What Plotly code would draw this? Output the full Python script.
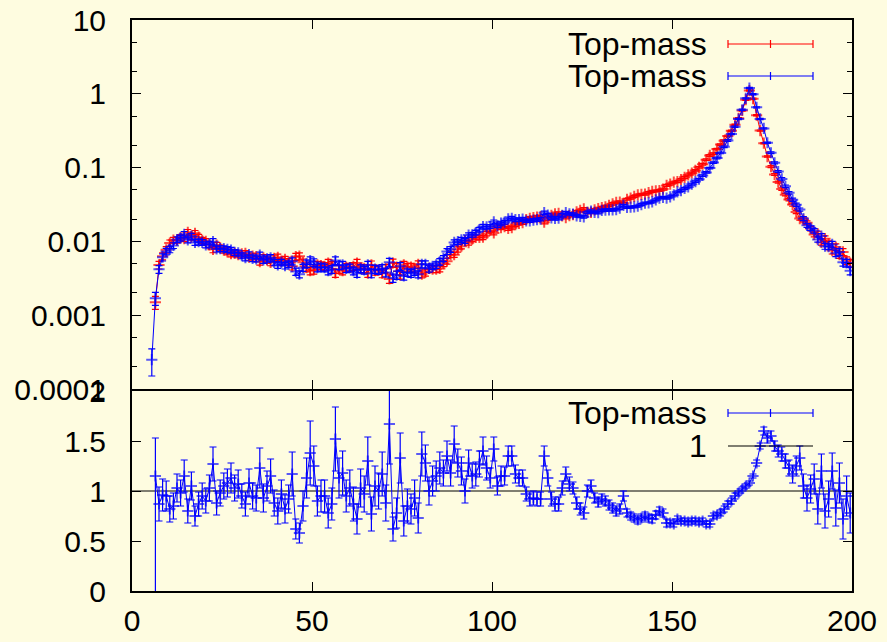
import plotly.graph_objects as go

# ---------------- data ----------------
mass_bins = [b + 0.5 for b in range(5, 200)]          # 5.5 ... 199.5 (bin centres)
ratio_bins = mass_bins[1:]                            # 6.5 ... 199.5

red_vals = [
    0.0015, 0.0048, 0.0063, 0.0077, 0.0095, 0.0104, 0.0104, 0.0113, 0.0109, 0.0133,
    0.0114, 0.0129, 0.0114, 0.0103, 0.0100, 0.0090, 0.0078, 0.0089, 0.0082, 0.0076,
    0.0072, 0.0068, 0.0069, 0.0066, 0.0068, 0.0069, 0.0061, 0.0063, 0.0062, 0.0053,
    0.0060, 0.0056, 0.0052, 0.0059, 0.0061, 0.0054, 0.0057, 0.0053, 0.0046, 0.0062,
    0.0063, 0.0052, 0.0044, 0.0040, 0.0041, 0.0048, 0.0047, 0.0046, 0.0051, 0.0048,
    0.0037, 0.0042, 0.0040, 0.0045, 0.0044, 0.0046, 0.0051, 0.0043, 0.0043, 0.0037,
    0.0048, 0.0040, 0.0041, 0.0037, 0.0043, 0.0031, 0.0051, 0.0045, 0.0035, 0.0048,
    0.0045, 0.0045, 0.0043, 0.0049, 0.0036, 0.0038, 0.0043, 0.0042, 0.0042, 0.0043,
    0.0050, 0.0054, 0.0066, 0.0066, 0.0078, 0.0086, 0.0102, 0.0096, 0.0107, 0.0113,
    0.0113, 0.0114, 0.0128, 0.0142, 0.0130, 0.0157, 0.0154, 0.0159, 0.0150, 0.0153,
    0.0169, 0.0175, 0.0179, 0.0198, 0.0206, 0.0210, 0.0214, 0.0217, 0.0182, 0.0202,
    0.0226, 0.0237, 0.0239, 0.0222, 0.0210, 0.0223, 0.0231, 0.0251, 0.0264, 0.0277,
    0.0248, 0.0247, 0.0268, 0.0279, 0.0286, 0.0295, 0.0309, 0.0323, 0.0339, 0.0341,
    0.0328, 0.0372, 0.0386, 0.0407, 0.0426, 0.0435, 0.0437, 0.0459, 0.0476, 0.0483,
    0.0489, 0.0511, 0.0573, 0.0598, 0.0634, 0.0647, 0.0690, 0.0738, 0.0795, 0.0845,
    0.0917, 0.101, 0.111, 0.128, 0.146, 0.155, 0.178, 0.205, 0.231, 0.269,
    0.316, 0.381, 0.465, 0.594, 0.833, 1.106, 0.860, 0.513, 0.317, 0.214,
    0.141, 0.103, 0.0808, 0.0636, 0.0513, 0.0430, 0.0369, 0.0315, 0.0250, 0.0204,
    0.0196, 0.0179, 0.0149, 0.0124, 0.0127, 0.0097, 0.0109, 0.0093, 0.0075, 0.0084,
    0.0066, 0.0072, 0.0055, 0.0051,
]

blue_vals = [
    0.00025,
    0.0017, 0.0042, 0.0061, 0.0073, 0.0078, 0.0088, 0.0106, 0.0111, 0.0125, 0.0105,
    0.0118, 0.0097, 0.0099, 0.0097, 0.0090, 0.0092, 0.0099, 0.0079, 0.0080, 0.0080,
    0.0078, 0.0076, 0.0071, 0.0070, 0.0064, 0.0060, 0.0066, 0.0059, 0.0058, 0.0065,
    0.0056, 0.0058, 0.0060, 0.0052, 0.0048, 0.0052, 0.0047, 0.0049, 0.0054, 0.0039,
    0.0036, 0.0044, 0.0050, 0.0055, 0.0052, 0.0044, 0.0045, 0.0044, 0.0040, 0.0042,
    0.0055, 0.0047, 0.0048, 0.0043, 0.0044, 0.0040, 0.0037, 0.0043, 0.0041, 0.0048,
    0.0037, 0.0042, 0.0041, 0.0043, 0.0038, 0.0052, 0.0032, 0.0035, 0.0046, 0.0034,
    0.0038, 0.0037, 0.0039, 0.0036, 0.0049, 0.0049, 0.0043, 0.0046, 0.0048, 0.0053,
    0.0059, 0.0073, 0.0078, 0.0097, 0.0099, 0.0105, 0.0102, 0.0122, 0.0123, 0.0132,
    0.0145, 0.0159, 0.0158, 0.0159, 0.0184, 0.0163, 0.0177, 0.0182, 0.0202, 0.0206,
    0.0197, 0.0197, 0.0201, 0.0190, 0.0190, 0.0194, 0.0197, 0.0200, 0.0245, 0.0227,
    0.0208, 0.0205, 0.0206, 0.0226, 0.0245, 0.0237, 0.0235, 0.0222, 0.0218, 0.0215,
    0.0248, 0.0257, 0.0247, 0.0246, 0.0264, 0.0266, 0.0267, 0.0268, 0.0269, 0.0282,
    0.0308, 0.0288, 0.0292, 0.0294, 0.0301, 0.0315, 0.0331, 0.0332, 0.0344, 0.0365,
    0.0387, 0.0396, 0.0385, 0.0402, 0.0426, 0.0468, 0.0487, 0.0521, 0.0548, 0.0596,
    0.0647, 0.0697, 0.0781, 0.0861, 0.0984, 0.117, 0.135, 0.158, 0.191, 0.233,
    0.285, 0.359, 0.455, 0.606, 0.867, 1.196, 0.984, 0.655, 0.456, 0.340,
    0.217, 0.159, 0.116, 0.0885, 0.0702, 0.0559, 0.0455, 0.0367, 0.0314, 0.0270,
    0.0204, 0.0165, 0.0152, 0.0139, 0.0106, 0.0118, 0.0086, 0.0085, 0.0091, 0.0069,
    0.0072, 0.0052, 0.0051, 0.0040,
]

# relative statistical error (percent) of the top-panel points, bins 5.5 ... 199.5
top_err_pct = [
    40, 20,
    12, 11, 10, 10, 9, 9, 9, 9, 9,
    9, 9, 9, 9, 9, 9, 10, 9, 9, 9, 9, 9, 9, 9, 9, 9, 9, 10, 9, 10,
    10, 10, 10, 10, 10, 10, 10, 10, 11, 11,
    11, 11, 12, 12, 12, 12, 12, 12, 12, 12, 12, 12, 12, 12, 12, 12, 12, 12, 12, 12,
    13, 13, 13, 13, 13, 13, 13, 13, 12, 12, 12, 12, 11, 11, 11, 11, 11, 10, 10, 10,
    9, 9, 9, 8, 8, 8, 8, 7, 7, 7, 7, 7, 7, 6,
    6, 6, 6, 6, 6, 6, 6, 5, 5, 5, 5, 5, 5, 5, 5, 5, 5, 5, 5, 5, 4, 4, 4, 4, 4, 4,
    4, 4, 4, 4, 4, 4, 4, 4, 4, 4, 3, 3, 3, 3, 3, 3, 3, 3, 3, 3,
    3, 3, 3, 3, 3, 3, 3, 3, 3, 3, 2.5, 2.5, 2.5, 2.5, 2.5, 2.5, 2.5, 2.5, 2.5, 2.5,
    2, 2, 2, 2, 2, 2, 2, 2, 2, 2, 2,
    3, 3, 3, 4, 4, 4, 5, 5, 5, 6, 6, 7, 7, 8, 8, 9, 9, 10, 10, 11, 11, 12, 12,
]

ratio_vals = [
    1.15, 0.87, 0.96, 0.95, 0.82, 0.85, 1.03, 0.98, 1.15, 0.80,
    1.05, 0.75, 0.87, 0.95, 0.90, 1.03, 1.27, 0.88, 0.98, 1.05,
    1.08, 1.13, 1.03, 1.07, 0.95, 0.87, 1.08, 0.95, 0.93, 1.23,
    0.93, 1.05, 1.15, 0.88, 0.80, 0.97, 0.82, 0.92, 1.17, 0.62,
    0.58, 0.85, 1.13, 1.38, 1.25, 0.90, 0.95, 0.95, 0.78, 0.87,
    1.52, 1.13, 1.18, 0.95, 1.03, 0.87, 0.72, 1.03, 0.97, 1.30,
    0.77, 1.05, 1.00, 1.17, 0.88, 1.67, 0.62, 0.78, 1.33, 0.70,
    0.85, 0.82, 0.93, 0.73, 1.37, 1.28, 1.00, 1.10, 1.15, 1.23,
    1.18, 1.35, 1.18, 1.47, 1.28, 1.20, 1.00, 1.28, 1.15, 1.17,
    1.27, 1.40, 1.23, 1.13, 1.42, 1.05, 1.15, 1.15, 1.35, 1.35,
    1.17, 1.13, 1.13, 0.97, 0.92, 0.93, 0.92, 0.92, 1.35, 1.13,
    0.92, 0.87, 0.87, 1.03, 1.17, 1.07, 1.03, 0.88, 0.82, 0.78,
    1.00, 1.05, 0.93, 0.89, 0.92, 0.90, 0.86, 0.83, 0.80, 0.82,
    0.95, 0.78, 0.75, 0.73, 0.71, 0.73, 0.75, 0.73, 0.72, 0.76,
    0.80, 0.78, 0.68, 0.68, 0.67, 0.72, 0.70, 0.70, 0.69, 0.70,
    0.70, 0.69, 0.70, 0.67, 0.67, 0.75, 0.76, 0.78, 0.82, 0.87,
    0.90, 0.95, 0.98, 1.02, 1.05, 1.08, 1.15, 1.28, 1.45, 1.60,
    1.53, 1.55, 1.45, 1.40, 1.37, 1.30, 1.23, 1.17, 1.25, 1.33,
    1.05, 0.93, 1.02, 1.12, 0.82, 1.20, 0.80, 0.92, 1.20, 0.83,
    1.08, 0.72, 0.95, 0.78,
]

ratio_err = [
    0.38, 0.17, 0.16, 0.15, 0.13, 0.13, 0.14, 0.13, 0.16, 0.12,
    0.14, 0.10, 0.12, 0.13, 0.12, 0.13, 0.17, 0.12, 0.13, 0.13,
    0.14, 0.15, 0.13, 0.14, 0.12, 0.12, 0.14, 0.13, 0.13, 0.20,
    0.14, 0.15, 0.17, 0.13, 0.13, 0.14, 0.14, 0.14, 0.22, 0.10,
    0.10, 0.15, 0.20, 0.32, 0.20, 0.15, 0.16, 0.16, 0.15, 0.16,
    0.32, 0.20, 0.22, 0.16, 0.18, 0.17, 0.15, 0.19, 0.18, 0.24,
    0.17, 0.20, 0.18, 0.22, 0.18, 0.40, 0.12, 0.15, 0.25, 0.15,
    0.17, 0.15, 0.18, 0.15, 0.22, 0.18, 0.14, 0.15, 0.15, 0.16,
    0.13, 0.15, 0.13, 0.18, 0.14, 0.14, 0.12, 0.13, 0.12, 0.12,
    0.13, 0.14, 0.12, 0.10, 0.12, 0.09, 0.10, 0.09, 0.10, 0.10,
    0.09, 0.08, 0.08, 0.07, 0.07, 0.07, 0.07, 0.07, 0.10, 0.08,
    0.07, 0.07, 0.07, 0.07, 0.07, 0.07, 0.06, 0.06, 0.06, 0.06,
    0.06, 0.06, 0.05, 0.05, 0.05, 0.05, 0.05, 0.05, 0.05, 0.05,
    0.05, 0.04, 0.04, 0.04, 0.04, 0.04, 0.04, 0.04, 0.04, 0.04,
    0.04, 0.04, 0.04, 0.03, 0.03, 0.03, 0.03, 0.03, 0.03, 0.03,
    0.03, 0.03, 0.03, 0.03, 0.03, 0.03, 0.03, 0.03, 0.03, 0.03,
    0.03, 0.03, 0.02, 0.02, 0.02, 0.02, 0.02, 0.03, 0.03, 0.04,
    0.05, 0.05, 0.05, 0.06, 0.07, 0.07, 0.08, 0.09, 0.10, 0.12,
    0.12, 0.13, 0.14, 0.15, 0.15, 0.17, 0.17, 0.18, 0.18, 0.18,
    0.20, 0.20, 0.20, 0.20,
]
# the first ratio point has a downward error reaching below zero
ratio_err_low = [1.20] + ratio_err[1:]

unity_x = [0, 200]
unity_y = [1, 1]

series_name = "Top-mass"
unity_name = "1"

y_top_ticks = [0.0001, 0.001, 0.01, 0.1, 1, 10]
y_top_labels = ["0.0001", "0.001", "0.01", "0.1", "1", "10"]
y_top_minor = [m * 10 ** e for e in range(-4, 1) for m in (2, 5)]
y_bot_ticks = [0, 0.5, 1, 1.5, 2]
y_bot_labels = ["0", "0.5", "1", "1.5", "2"]
x_ticks = [0, 50, 100, 150, 200]
x_labels = ["0", "50", "100", "150", "200"]

# ---------------- styling ----------------
BG = "#fefce0"
FONT = "Liberation Sans, Arial, Helvetica, sans-serif"
FS = 30
KFS = 32
W, H = 887, 642
ML, MR, MT, MB = 132, 35, 20, 51
PW, PH = W - ML - MR, H - MT - MB
SPLIT = 201 / PH          # bottom panel height fraction
GAP = 1 / PH              # one pixel: makes both 2px frame lines coincide

red_err = [v * p / 100 for v, p in zip(red_vals, top_err_pct[1:])]
blue_err = [v * p / 100 for v, p in zip(blue_vals, top_err_pct)]

def pts(mcolor):
    return dict(symbol="cross-thin", size=8, line=dict(width=2, color=mcolor), color=mcolor)

fig = go.Figure()
fig.add_trace(go.Scatter(
    x=ratio_bins, y=red_vals, xaxis="x2", yaxis="y2", mode="lines+markers",
    line=dict(color="#ff0000", width=1), marker=pts("rgba(255,0,0,0.7)"),
    error_y=dict(type="data", array=red_err, color="#ff0000", thickness=1.2, width=3.5),
    name=series_name, showlegend=False))
fig.add_trace(go.Scatter(
    x=mass_bins, y=blue_vals, xaxis="x2", yaxis="y2", mode="lines+markers",
    line=dict(color="#0000ff", width=1), marker=pts("rgba(0,0,255,0.65)"),
    error_y=dict(type="data", array=blue_err, color="#0000ff", thickness=1.2, width=3.5),
    name=series_name, showlegend=False))
fig.add_trace(go.Scatter(
    x=unity_x, y=unity_y, xaxis="x", yaxis="y", mode="lines",
    line=dict(color="black", width=1), name=unity_name, showlegend=False))
fig.add_trace(go.Scatter(
    x=ratio_bins, y=ratio_vals, xaxis="x", yaxis="y", mode="lines+markers",
    line=dict(color="#0000ff", width=1), marker=pts("rgba(0,0,255,0.65)"),
    error_y=dict(type="data", array=ratio_err, arrayminus=ratio_err_low,
                 color="#0000ff", thickness=1.2, width=3.5),
    name=series_name, showlegend=False))

axis_common = dict(showline=True, linecolor="black", linewidth=2, mirror="ticks",
                   ticks="inside", ticklen=9, tickwidth=1, tickcolor="black",
                   showgrid=False, zeroline=False, automargin=False,
                   tickfont=dict(family=FONT, size=FS, color="black"))

fig.update_layout(
    width=W, height=H, margin=dict(l=ML, r=MR, t=MT, b=MB, autoexpand=False),
    paper_bgcolor=BG, plot_bgcolor=BG, showlegend=False,
    xaxis=dict(axis_common, range=[0, 200], domain=[0, 1], anchor="y",
               tickmode="array", tickvals=x_ticks, ticktext=x_labels,
               ticklabelstandoff=2),
    yaxis=dict(axis_common, range=[0, 2], domain=[0, SPLIT - GAP], anchor="x",
               tickmode="array", tickvals=y_bot_ticks, ticktext=y_bot_labels,
               ticklabelstandoff=18),
    xaxis2=dict(axis_common, range=[0, 200], domain=[0, 1], anchor="y2",
                matches="x", tickmode="array", tickvals=x_ticks, showticklabels=False),
    yaxis2=dict(axis_common, type="log", range=[-4, 1], domain=[SPLIT + GAP, 1], anchor="x2",
                tickmode="array", tickvals=y_top_ticks, ticktext=y_top_labels,
                ticklabelstandoff=18,
                minor=dict(tickmode="array", tickvals=y_top_minor, ticks="inside",
                           ticklen=5, tickcolor="black", tickwidth=1)),
)

# ---------------- gnuplot-style key ----------------
def px(xp):
    return (xp - ML) / PW

def py(yp):
    return (H - MB - yp) / PH

shapes, annots = [], []

def key_entry(label, ycen, color, errbar):
    annots.append(dict(x=px(709), y=py(ycen), xref="paper", yref="paper",
                       text=label, showarrow=False, xanchor="right", yanchor="middle",
                       font=dict(family=FONT, size=KFS, color="black")))
    shapes.append(dict(type="line", xref="paper", yref="paper",
                       x0=px(728), x1=px(813), y0=py(ycen), y1=py(ycen),
                       line=dict(color=color, width=1.2)))
    if errbar:
        for xx in (728, 770.5, 813):
            shapes.append(dict(type="line", xref="paper", yref="paper",
                               x0=px(xx), x1=px(xx), y0=py(ycen - 4), y1=py(ycen + 4),
                               line=dict(color=color, width=1.2)))

key_entry(series_name, 44, "#ff0000", True)
key_entry(series_name, 76, "#0000ff", True)
key_entry(series_name, 413, "#0000ff", True)
key_entry(unity_name, 446, "black", False)

fig.update_layout(shapes=shapes, annotations=annots)

page_js = ("document.body.style.margin='0';"
           "document.body.style.padding='0';"
           "document.body.style.overflow='hidden';"
           "document.body.style.background='" + BG + "';")

fig.write_html("out.html", post_script=page_js, config={"displayModeBar": False})
